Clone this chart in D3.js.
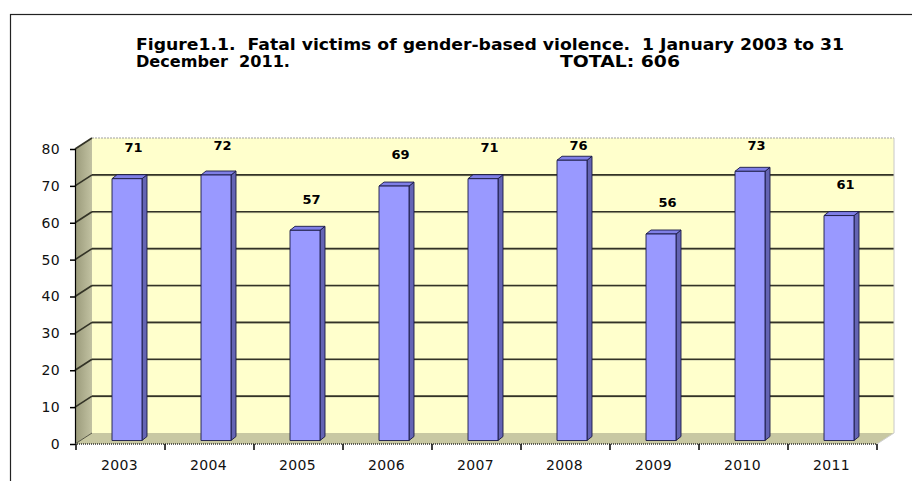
<!DOCTYPE html>
<html><head><meta charset="utf-8">
<script src="https://cdn.jsdelivr.net/npm/d3@7"></script>
<style>
html,body{margin:0;padding:0;background:#fff;}
svg{display:block;}
text{white-space:pre;}
</style></head>
<body>
<svg id="chart" width="912" height="481"></svg>
<script>
// ---- data ----
const years = ["2003","2004","2005","2006","2007","2008","2009","2010","2011"];
const victims = [71, 72, 57, 69, 71, 76, 56, 73, 61];
const yTicks = [0,10,20,30,40,50,60,70,80];
const titleLine1 = "Figure1.1.  Fatal victims of gender-based violence.  1 January 2003 to 31";
const titleLine2a = "December  2011.";
const titleLine2b = "TOTAL: 606";

// ---- drawing ----
const svg = d3.select("#chart");
const DX = 17, DY = -11;            // 3D depth of the plot box
const x = d3.scaleBand().domain(years).range([76, 877]);
const y = d3.scaleLinear().domain([0, 80]).range([444, 149]);
const x0 = 75;

// frame
svg.append("rect").attr("x",10.5).attr("y",14.5).attr("width",1000).attr("height",1000)
  .attr("fill","none").attr("stroke","#222").attr("stroke-width",1.2);

// title
const tf = "'DejaVu Sans', Verdana, sans-serif";
svg.append("text").attr("x",136).attr("y",50).text(titleLine1)
  .attr("font-family",tf).attr("font-weight","bold").attr("font-size",15)
  .attr("textLength",708).attr("lengthAdjust","spacingAndGlyphs").attr("fill","#000");
svg.append("text").attr("x",136).attr("y",67).text(titleLine2a)
  .attr("font-family",tf).attr("font-weight","bold").attr("font-size",15)
  .attr("textLength",154).attr("lengthAdjust","spacingAndGlyphs").attr("fill","#000");
svg.append("text").attr("x",560).attr("y",67).text(titleLine2b)
  .attr("font-family",tf).attr("font-weight","bold").attr("font-size",15)
  .attr("textLength",120).attr("lengthAdjust","spacingAndGlyphs").attr("fill","#000");

const defs = svg.append("defs");
const sg = defs.append("linearGradient").attr("id","sideGrad").attr("x1","0").attr("x2","1").attr("y1","0").attr("y2","0");
sg.append("stop").attr("offset","0").attr("stop-color","#9a9a7a");
sg.append("stop").attr("offset","1").attr("stop-color","#c2c2a2");

const xR = x.range()[1];
const yTop = y(80), yBot = y(0);

// back wall
svg.append("rect").attr("x",x0+DX).attr("y",yTop+DY).attr("width",xR-x0).attr("height",yBot-yTop)
  .attr("fill","#ffffcc");
// side wall
svg.append("polygon").attr("points",[[x0,yBot],[x0,yTop],[x0+DX,yTop+DY],[x0+DX,yBot+DY]].join(" "))
  .attr("fill","url(#sideGrad)");
// floor
svg.append("polygon").attr("points",[[x0,yBot],[x0+DX,yBot+DY],[xR+DX,yBot+DY],[xR,yBot]].join(" "))
  .attr("fill","#c8c8a2");

// gridlines
const grid = svg.append("g");
yTicks.forEach(v => {
  if (v === 0) return;
  const yy = y(v);
  if (v < 80) {
    grid.append("line").attr("x1",x0+DX).attr("x2",xR+DX).attr("y1",yy+DY+1).attr("y2",yy+DY+1)
      .attr("stroke","#d8d8b0").attr("stroke-width",1);
    grid.append("line").attr("x1",x0+DX).attr("x2",xR+DX).attr("y1",yy+DY).attr("y2",yy+DY)
      .attr("stroke","#333326").attr("stroke-width",1.7);
  }
  grid.append("line").attr("x1",x0).attr("x2",x0+DX).attr("y1",yy).attr("y2",yy+DY)
    .attr("stroke","#333326").attr("stroke-width",1.7);
});
// top edge & right edge of back wall
grid.append("line").attr("x1",x0+DX).attr("x2",xR+DX).attr("y1",yTop+DY).attr("y2",yTop+DY)
  .attr("stroke","#a0a0a0").attr("stroke-width",1.2).attr("stroke-dasharray","2,1");
grid.append("line").attr("x1",xR+DX).attr("x2",xR+DX).attr("y1",yTop+DY).attr("y2",yBot+DY)
  .attr("stroke","#c8c8c8").attr("stroke-width",1);
grid.append("line").attr("x1",x0).attr("x2",x0+DX).attr("y1",yBot).attr("y2",yBot+DY)
  .attr("stroke","#555544").attr("stroke-width",1);
grid.append("line").attr("x1",xR).attr("x2",xR+DX).attr("y1",yBot).attr("y2",yBot+DY)
  .attr("stroke","#d0d0d0").attr("stroke-width",1);

// bars
const BW = 30, BOX = 6.5, BOY = -3.5, BDX = 5, BDY = -4;
const bars = svg.append("g");
years.forEach((yr, i) => {
  const v = victims[i];
  const cx = x(yr) + x.bandwidth()/2 + BOX;
  const l = cx - BW/2, r = cx + BW/2;
  const t = y(v) + BOY, b = y(0) + BOY;
  const st = {"stroke":"#1a1a44","stroke-width":0.9,"stroke-linejoin":"round"};
  const side = bars.append("polygon").attr("points",[[r,b],[r,t],[r+BDX,t+BDY],[r+BDX,b+BDY]].join(" "))
    .attr("fill","#6464b4");
  const top = bars.append("polygon").attr("points",[[l,t],[l+BDX,t+BDY],[r+BDX,t+BDY],[r,t]].join(" "))
    .attr("fill","#7f7fe6");
  const front = bars.append("rect").attr("x",l).attr("y",t).attr("width",BW).attr("height",b-t)
    .attr("fill","#9999ff");
  [side,top,front].forEach(s => Object.entries(st).forEach(([k,val]) => s.attr(k,val)));
});

// data labels
years.forEach((yr, i) => {
  const v = victims[i];
  const lv = Math.min(v + 8.5, 80);
  svg.append("text").attr("x", x(yr) + x.bandwidth()/2 + 13).attr("y", y(lv) - 3.5)
    .attr("dy","0.36em").attr("text-anchor","middle")
    .attr("font-family",tf).attr("font-weight","bold").attr("font-size",13)
    .attr("fill","#000").text(v);
});

// y axis
const yAxis = d3.axisLeft(y).tickValues(yTicks).tickSize(5).tickPadding(10);
const ya = svg.append("g").attr("transform",`translate(${x0},0)`).call(yAxis);
ya.select(".domain").attr("stroke","#000").attr("stroke-width",1.2);
ya.selectAll(".tick line").attr("stroke","#000").attr("stroke-width",1.5);
ya.selectAll(".tick text").attr("font-family",tf).attr("font-size",14).attr("fill","#111")
  .attr("letter-spacing",0.4);

// x axis
const xa = svg.append("g").attr("transform",`translate(0,${yBot})`);
xa.append("line").attr("x1",x0).attr("x2",xR).attr("y1",0).attr("y2",0)
  .attr("stroke","#333").attr("stroke-width",1.5).attr("stroke-dasharray","1,1");
const bounds = years.map(d => x(d)).concat([xR]);
xa.selectAll("line.tk").data(bounds).join("line").attr("class","tk")
  .attr("x1",d=>d).attr("x2",d=>d).attr("y1",0).attr("y2",6)
  .attr("stroke","#000").attr("stroke-width",1.5);
xa.selectAll("text").data(years).join("text")
  .attr("x",d => x(d) + x.bandwidth()/2 - 1).attr("y",26).attr("text-anchor","middle")
  .attr("font-family",tf).attr("font-size",14).attr("fill","#111").attr("letter-spacing",0.4)
  .text(d => d);
</script>
</body></html>
